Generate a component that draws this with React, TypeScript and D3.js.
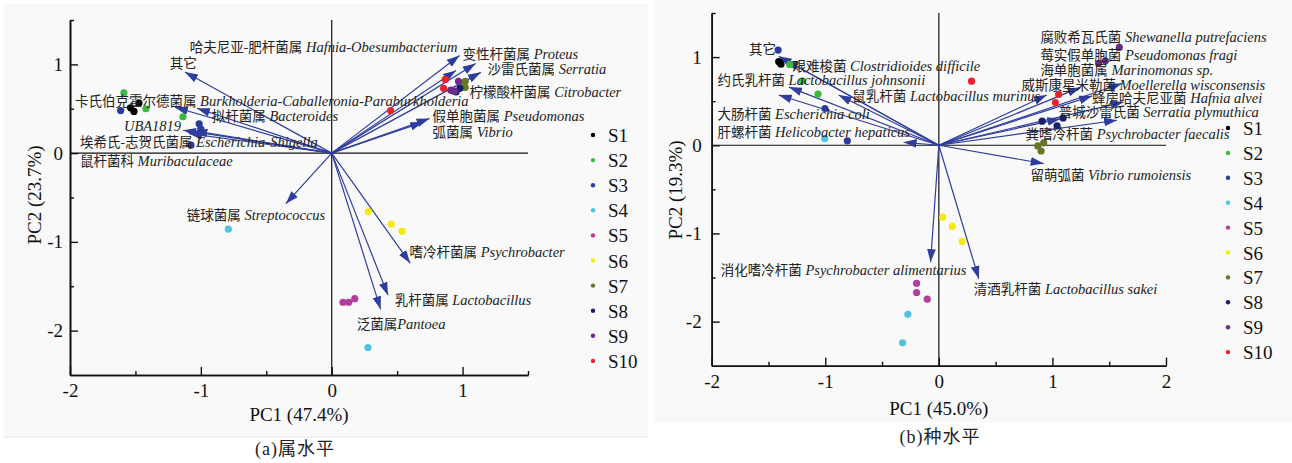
import React, { useRef, useEffect } from "react";
import * as d3 from "d3";

// sample groups (legend)
const groups = ["S1", "S2", "S3", "S4", "S5", "S6", "S7", "S8", "S9", "S10"];
const groupColors = ["#000000", "#3db83d", "#2b3a9c", "#4ec4e2", "#b33d9c", "#f4ea10", "#66772a", "#1c1f6e", "#6b2a8c", "#e8232a"];

// (a) genus level: sample scores
const genusX = [
  [-1.537, -1.473, -1.511],
  [-1.588, -1.42, -1.137],
  [-1.613, -1.013, -1.076, -1.0],
  [-0.79, 0.277],
  [0.086, 0.13, 0.176],
  [0.28, 0.455, 0.537],
  [1.02, 1.02, 1.0],
  [0.98, 0.95, 0.93],
  [0.969, 0.91, 0.94],
  [0.868, 0.855, 0.45],
];
const genusY = [
  [0.51, 0.565, 0.47],
  [0.68, 0.5, 0.41],
  [0.48, 0.33, 0.09, 0.27],
  [-0.857, -2.19],
  [-1.68, -1.68, -1.64],
  [-0.66, -0.8, -0.88],
  [0.81, 0.74, 0.77],
  [0.73, 0.69, 0.7],
  [0.81, 0.71, 0.7],
  [0.83, 0.73, 0.48],
];

// (a) genus loadings
const genusCn = ["哈夫尼亚-肥杆菌属", "其它", "变性杆菌属", "沙雷氏菌属", "柠檬酸杆菌属", "卡氏伯克霍尔德菌属", "拟杆菌属", "假单胞菌属", "", "弧菌属", "埃希氏-志贺氏菌属", "鼠杆菌科", "链球菌属", "嗜冷杆菌属", "乳杆菌属", "泛菌属"];
const genusLatin = ["Hafnia-Obesumbacterium", "", "Proteus", "Serratia", "Citrobacter", "Burkholderia-Caballeronia-Paraburkholderia", "Bacteroides", "Pseudomonas", "UBA1819", "Vibrio", "Escherichia-Shigella", "Muribaculaceae", "Streptococcus", "Psychrobacter", "Lactobacillus", "Pantoea"];
const genusArrowX = [0.95, -1.122, 0.977, 1.1, 1.14, -1.198, -1.03, 0.748, -1.135, 0.7, -1.05, -1.09, -0.35, 0.6, 0.43, 0.374];
const genusArrowY = [0.93, 0.913, 1.1, 1.01, 0.91, 0.517, 0.506, 0.39, 0.258, 0.35, 0.25, 0.22, -0.57, -1.24, -1.6, -1.76];
const genusLabelX = [-1.084, -1.237, 1.0, 1.191, 1.053, -1.962, -0.916, 0.771, -1.588, 0.771, -1.924, -1.924, -1.107, 0.595, 0.481, 0.191];
const genusLabelY = [1.135, 0.955, 1.056, 0.888, 0.629, 0.528, 0.36, 0.36, 0.247, 0.18, 0.067, -0.146, -0.753, -1.165, -1.708, -1.978];

// (b) species level: sample scores
const speciesX = [
  [-1.41, -1.39, -1.4],
  [-1.313, -1.2, -1.064],
  [-1.415, -1.003, -0.806],
  [-1.005, -0.273, -0.319],
  [-0.196, -0.196, -0.102],
  [0.035, 0.118, 0.206],
  [0.871, 0.923, 0.9],
  [0.909, 1.094, 1.041],
  [1.589, 1.407, 1.466],
  [0.288, 1.055, 1.026],
];
const speciesY = [
  [0.95, 0.92, 0.94],
  [0.917, 0.73, 0.58],
  [1.08, 0.417, 0.05],
  [0.076, -1.917, -2.24],
  [-1.565, -1.67, -1.746],
  [-0.815, -0.92, -1.09],
  [-0.008, 0.026, -0.065],
  [0.273, 0.31, 0.22],
  [1.11, 0.928, 0.958],
  [0.727, 0.576, 0.485],
];

// (b) species loadings
const speciesCn = ["其它", "艰难梭菌", "约氏乳杆菌", "鼠乳杆菌", "大肠杆菌", "肝螺杆菌", "腐败希瓦氏菌", "莓实假单胞菌", "海单胞菌属", "威斯康星米勒菌", "蜂房哈夫尼亚菌", "普城沙雷氏菌", "粪嗜冷杆菌", "留萌弧菌", "消化嗜冷杆菌", "清酒乳杆菌"];
const speciesLatin = ["", "Clostridioides difficile", "Lactobacillus johnsonii", "Lactobacillus murinus", "Escherichia coli", "Helicobacter hepaticus", "Shewanella putrefaciens", "Pseudomonas fragi", "Marinomonas sp.", "Moellerella wisconsensis", "Hafnia alvei", "Serratia plymuthica", "Psychrobacter faecalis", "Vibrio rumoiensis", "Psychrobacter alimentarius", "Lactobacillus sakei"];
const speciesArrowX = [-1.41, -1.35, -1.32, -0.883, -1.41, -0.31, 1.613, 1.246, 1.35, 0.95, 1.627, 1.569, 1.07, 0.923, -0.073, 0.352];
const speciesArrowY = [1.01, 0.966, 0.66, 0.57, 0.57, 0.034, 0.7, 0.656, 0.56, 0.57, 0.49, 0.284, 0.3, -0.208, -1.326, -1.515];
const speciesLabelX = [-1.671, -1.289, -1.949, -0.762, -1.949, -1.949, 0.894, 0.894, 0.894, 0.727, 1.349, 1.055, 0.763, 0.806, -1.92, 0.308];
const speciesLabelY = [1.034, 0.844, 0.682, 0.503, 0.295, 0.094, 1.167, 0.966, 0.795, 0.625, 0.474, 0.315, 0.076, -0.398, -1.477, -1.685];

const serif = "'Liberation Serif', 'Noto Sans CJK SC', serif";
const arrowColor = "#2f3d9e";

type PanelProps = {
  id: string;
  xDomain: [number, number];
  yDomain: [number, number];
  xRange: [number, number];
  yRange: [number, number];
  xTicks: number[];
  xMinor: number[];
  yTicks: number[];
  yMinor: number[];
  sx: number[][];
  sy: number[][];
  cn: string[];
  latin: string[];
  ax: number[];
  ay: number[];
  lx: number[];
  ly: number[];
  xTitle: string;
  yTitle: string;
  yTitleX: number;
  yTitleY: number;
  xTitleY: number;
  yPad: number;
  legendX: number;
  legendY: number;
  legendStep: number;
};

const Panel = (p: PanelProps) => {
  const xAxisRef = useRef<SVGGElement>(null);
  const yAxisRef = useRef<SVGGElement>(null);
  const x = d3.scaleLinear().domain(p.xDomain).range(p.xRange);
  const y = d3.scaleLinear().domain(p.yDomain).range(p.yRange);

  useEffect(() => {
    const gx = d3.select(xAxisRef.current);
    gx.selectAll("*").remove();
    gx.append("g").call(d3.axisBottom(x).tickValues(p.xMinor).tickSize(-4).tickSizeOuter(0).tickFormat(() => ""));
    gx.append("g").call(d3.axisBottom(x).tickValues(p.xTicks).tickSize(-8).tickSizeOuter(0).tickPadding(9).tickFormat((d) => String(d)));
    const gy = d3.select(yAxisRef.current);
    gy.selectAll("*").remove();
    gy.append("g").call(d3.axisLeft(y).tickValues(p.yMinor).tickSize(-4).tickSizeOuter(0).tickFormat(() => ""));
    gy.append("g").call(d3.axisLeft(y).tickValues(p.yTicks).tickSize(-8).tickSizeOuter(0).tickPadding(p.yPad).tickFormat((d) => String(d)));
    [gx, gy].forEach((g) => {
      g.selectAll("path.domain").attr("stroke", "#111").attr("stroke-width", 1.6);
      g.selectAll("line").attr("stroke", "#111").attr("stroke-width", 1.4);
      g.selectAll("text").attr("font-family", serif).attr("font-size", 19).attr("fill", "#111");
    });
  }, []);

  const [x0, x1] = p.xRange;
  const [yb, yt] = p.yRange;
  return (
    <g>
      <defs>
        <marker id={`arr-${p.id}`} markerUnits="userSpaceOnUse" viewBox="0 0 12 8" refX="12" refY="4" markerWidth="13" markerHeight="9" orient="auto">
          <path d="M0,0 L12,4 L0,8 Z" fill={arrowColor} />
        </marker>
      </defs>
      {/* zero lines */}
      <line x1={x0} x2={x1} y1={y(0)} y2={y(0)} stroke="#111" strokeWidth={1.2} />
      <line x1={x(0)} x2={x(0)} y1={yt} y2={yb} stroke="#111" strokeWidth={1.2} />
      <g ref={xAxisRef} transform={`translate(0,${yb})`} />
      <g ref={yAxisRef} transform={`translate(${x0},0)`} />
      {/* loadings */}
      {p.ax.map((v, i) => (
        <line key={`a${i}`} x1={x(0)} y1={y(0)} x2={x(v)} y2={y(p.ay[i])} stroke={arrowColor} strokeWidth={1.2} markerEnd={`url(#arr-${p.id})`} />
      ))}
      {/* samples */}
      {p.sx.map((xs, g) =>
        xs.map((v, j) => <circle key={`s${g}-${j}`} cx={x(v)} cy={y(p.sy[g][j])} r={3.6} fill={groupColors[g]} />)
      )}
      {/* labels */}
      {p.cn.map((c, i) => (
        <text key={`l${i}`} x={x(p.lx[i])} y={y(p.ly[i])} fontFamily={serif} fontSize={13.5} fill="#222">
          {c}
          {p.latin[i] && (
            <tspan fontStyle="italic" fontFamily="'Liberation Serif', serif" fontSize={14.5}>
              {(c && !c.endsWith("泛菌属") ? " " : "") + p.latin[i]}
            </tspan>
          )}
        </text>
      ))}
      {/* legend */}
      {groups.map((gname, i) => (
        <g key={gname} transform={`translate(${p.legendX},${p.legendY + i * p.legendStep})`}>
          <circle cx={0} cy={0} r={2.2} fill={groupColors[i]} />
          <text x={15} y={7} fontFamily={serif} fontSize={19} fill="#111">
            {gname}
          </text>
        </g>
      ))}
      <text x={(x0 + x1) / 2} y={p.xTitleY} textAnchor="middle" fontFamily={serif} fontSize={19} fill="#111">
        {p.xTitle}
      </text>
      <text transform={`translate(${p.yTitleX},${p.yTitleY}) rotate(-90)`} textAnchor="middle" fontFamily={serif} fontSize={19} fill="#111">
        {p.yTitle}
      </text>
    </g>
  );
};

export default function App() {
  return (
    <div style={{ position: "absolute", left: 0, top: 0 }}>
      <svg width={1292} height={463} style={{ display: "block", background: "#fff" }}>
        <rect x={4} y={4} width={644} height={433} fill="#f9f9f9" />
        <line x1={4} x2={648} y1={437} y2={437} stroke="#e6e6e6" />
        <rect x={655} y={0} width={637} height={423} fill="#f9f9f9" />
        <Panel
          id="a"
          xDomain={[-2, 1.5]}
          yDomain={[-2.5, 1.5]}
          xRange={[70, 528]}
          yRange={[375, 20]}
          xTicks={[-2, -1, 0, 1]}
          xMinor={[-1.5, -0.5, 0.5, 1.5]}
          yTicks={[-2, -1, 0, 1]}
          yMinor={[-1.5, -0.5, 0.5, 1.5]}
          sx={genusX}
          sy={genusY}
          cn={genusCn}
          latin={genusLatin}
          ax={genusArrowX}
          ay={genusArrowY}
          lx={genusLabelX}
          ly={genusLabelY}
          xTitle="PC1 (47.4%)"
          yTitle="PC2 (23.7%)"
          yTitleX={41}
          yTitleY={195}
          xTitleY={421}
          yPad={7}
          legendX={593}
          legendY={135}
          legendStep={25.1}
        />
        <Panel
          id="b"
          xDomain={[-2, 2]}
          yDomain={[-2.5, 1.5]}
          xRange={[711.7, 1166]}
          yRange={[365.7, 13]}
          xTicks={[-2, -1, 0, 1, 2]}
          xMinor={[-1.5, -0.5, 0.5, 1.5]}
          yTicks={[-2, -1, 0, 1]}
          yMinor={[-1.5, -0.5, 0.5, 1.5]}
          sx={speciesX}
          sy={speciesY}
          cn={speciesCn}
          latin={speciesLatin}
          ax={speciesArrowX}
          ay={speciesArrowY}
          lx={speciesLabelX}
          ly={speciesLabelY}
          xTitle="PC1 (45.0%)"
          yTitle="PC2 (19.3%)"
          yTitleX={682}
          yTitleY={190}
          xTitleY={415}
          yPad={10}
          legendX={1228}
          legendY={128}
          legendStep={24.9}
        />
        <text x={295} y={455} textAnchor="middle" fontFamily={serif} fontSize={18} fill="#222" letterSpacing={1}>
          (a)属水平
        </text>
        <text x={940} y={443} textAnchor="middle" fontFamily={serif} fontSize={18} fill="#222" letterSpacing={1}>
          (b)种水平
        </text>
      </svg>
    </div>
  );
}
